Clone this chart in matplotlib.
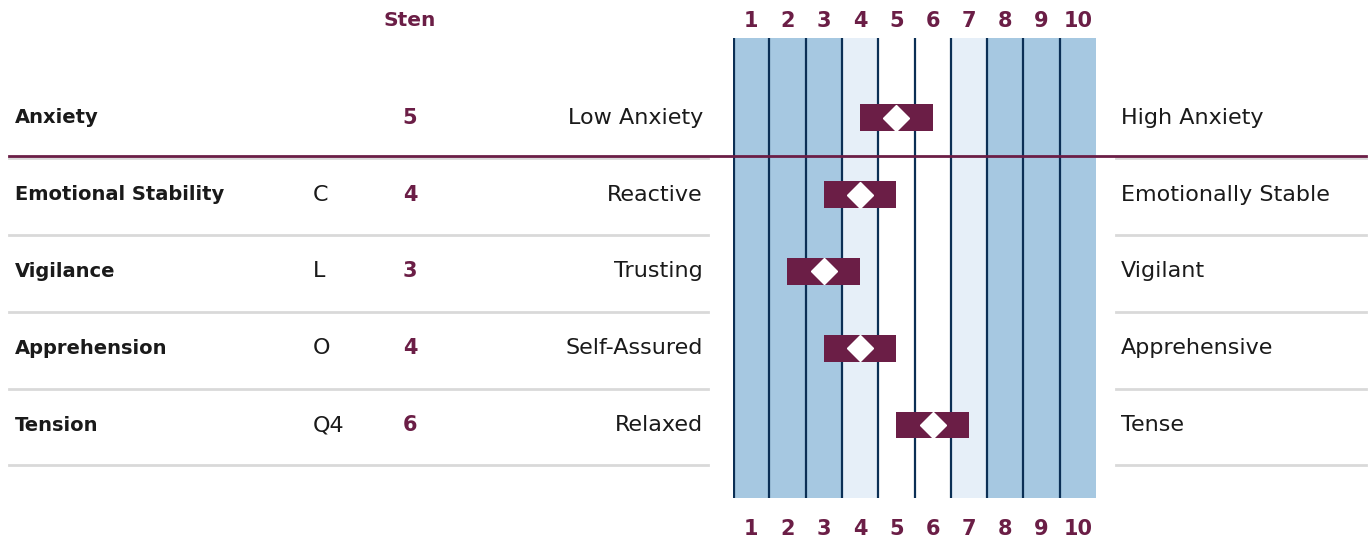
import matplotlib

matplotlib.use("Agg")
import matplotlib.pyplot as plt
import matplotlib.transforms as mtransforms
from matplotlib.lines import Line2D

MAROON = "#6b1e46"
NAVY = "#0b2f55"
DARK_BAND = "#a6c8e1"
LIGHT_BAND = "#e6eff8"
GRAY = "#d9d9d9"
INK = "#1a1a1a"

scales = ["Anxiety", "Emotional Stability", "Vigilance", "Apprehension", "Tension"]
factors = ["", "C", "L", "O", "Q4"]
stens = [5, 4, 3, 4, 6]
low_labels = ["Low Anxiety", "Reactive", "Trusting", "Self-Assured", "Relaxed"]
high_labels = ["High Anxiety", "Emotionally Stable", "Vigilant", "Apprehensive", "Tense"]
sten_points = list(range(1, 11))
band_colors = [DARK_BAND, DARK_BAND, DARK_BAND, LIGHT_BAND, "white",
               "white", LIGHT_BAND, DARK_BAND, DARK_BAND, DARK_BAND]

W, H = 1368, 542
fig = plt.figure(figsize=(W / 100, H / 100), dpi=100)
ax = fig.add_axes([733 / W, 1 - 498 / H, (1096 - 733) / W, (498 - 38) / H])


def fx(px):
    return px / W


# sten columns
for s, c in zip(sten_points, band_colors):
    ax.axvspan(s - 0.5, s + 0.5, color=c, lw=0, zorder=0)
for s in sten_points:
    ax.axvline(s - 0.5 + (0.03 if s == 1 else 0), color=NAVY, lw=1.6, zorder=1)

# score bars with diamond
rows = list(range(len(scales)))
ax.barh(rows, [2] * len(rows), left=[s - 1 for s in stens], height=0.35,
        color=MAROON, zorder=3)
ax.plot(stens, rows, linestyle="none", marker="D", ms=13, mfc="white",
        mec="white", zorder=4)

ax.set_xlim(0.5, 10.5)
ax.set_ylim(4.95, -1.04)
ax.set_yticks([])
for sp in ax.spines.values():
    sp.set_visible(False)

ax.set_xticks(sten_points)
ax.set_xticklabels([str(s) for s in sten_points], fontweight="bold")
ax.tick_params(axis="x", length=0, pad=15, labelsize=15, labelcolor=MAROON)

top = ax.secondary_xaxis("top")
top.set_xticks(sten_points)
top.set_xticklabels([str(s) for s in sten_points], fontweight="bold")
top.tick_params(axis="x", length=0, pad=5, labelsize=15, labelcolor=MAROON)
for sp in top.spines.values():
    sp.set_visible(False)

# text columns and separators
blend = mtransforms.blended_transform_factory(fig.transFigure, ax.transData)
for i, row in enumerate(rows):
    ax.text(fx(15), row, scales[i], transform=blend, ha="left", va="center",
            fontsize=14, fontweight="bold", color=INK, clip_on=False)
    ax.text(fx(313), row, factors[i], transform=blend, ha="left", va="center",
            fontsize=16, color=INK, clip_on=False)
    ax.text(fx(410), row, str(stens[i]), transform=blend, ha="center", va="center",
            fontsize=15, fontweight="bold", color=MAROON, clip_on=False)
    ax.text(fx(703), row, low_labels[i], transform=blend, ha="right", va="center",
            fontsize=16, color=INK, clip_on=False)
    ax.text(fx(1121), row, high_labels[i], transform=blend, ha="left", va="center",
            fontsize=16, color=INK, clip_on=False)
    sep = row + 0.5
    for x0, x1 in [(9, 708), (1116, 1366)]:
        fig.add_artist(Line2D([fx(x0), fx(x1)], [sep + 0.025, sep + 0.025],
                              transform=blend, color=GRAY, lw=2, zorder=5))

fig.add_artist(Line2D([fx(9), fx(1366)], [0.5, 0.5], transform=blend,
                      color=MAROON, lw=2, zorder=6))

fig.text(fx(410), 1 - 20 / H, "Sten", ha="center", va="center", fontsize=14.5,
         fontweight="bold", color=MAROON)

fig.savefig("out.png", dpi=100)
